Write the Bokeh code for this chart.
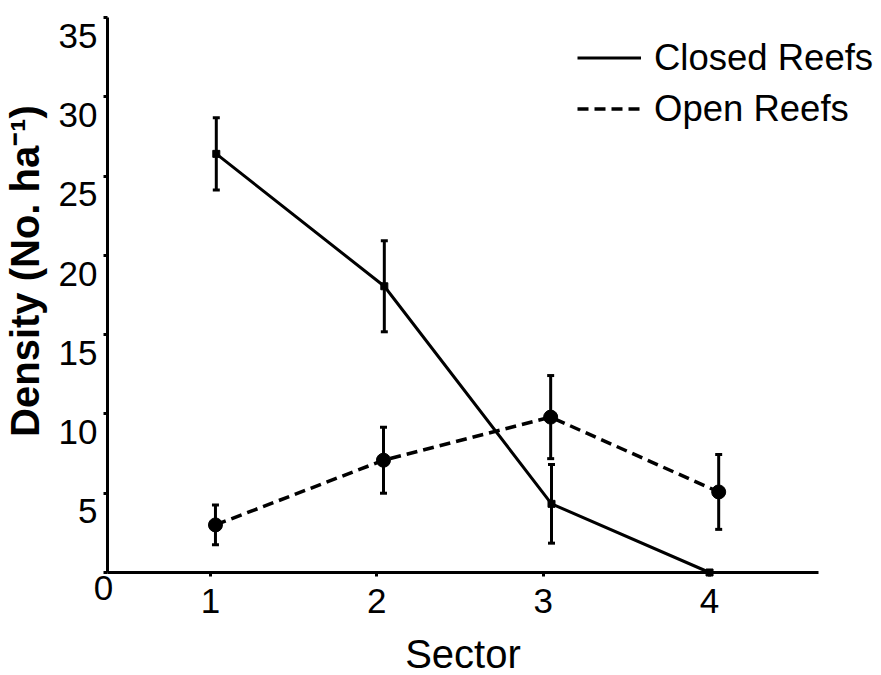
from bokeh.plotting import figure
from bokeh.models import (ColumnDataSource, FixedTicker, LinearAxis, CustomJSTickFormatter,
                          Whisker, TeeHead, Legend, LegendItem, Label)
from bokeh.embed import file_html
from bokeh.resources import INLINE

# Mean density (No. ha^-1) per sector with standard errors
sectors = [1, 2, 3, 4]
closed_x = [1.035, 2.045, 3.05, 4.0]
closed_mean = [26.4, 18.05, 4.33, 0.0]
closed_se = [2.28, 2.87, 2.48, 0.0]
open_x = [1.03, 2.04, 3.045, 4.055]
open_mean = [3.0, 7.08, 9.8, 5.08]
open_se = [1.25, 2.08, 2.62, 2.36]
y_ticks = [5, 10, 15, 20, 25, 30, 35]

FONT = "Liberation Sans"
LABEL_SHIFT = 1.15          # tick numbers sit a little below their ticks
X_AXIS = (0.381, 4.655)     # drawn extent of the sector axis
Y_AXIS = (0, 35)            # drawn extent of the density axis

closed = ColumnDataSource(dict(
    x=closed_x, y=closed_mean,
    lo=[m - s for m, s in zip(closed_mean, closed_se)],
    hi=[m + s for m, s in zip(closed_mean, closed_se)]))
opened = ColumnDataSource(dict(
    x=open_x, y=open_mean,
    lo=[m - s for m, s in zip(open_mean, open_se)],
    hi=[m + s for m, s in zip(open_mean, open_se)]))

# the frame fills the whole canvas; axes are pinned at the origin
p = figure(width=881, height=675, x_range=(-0.2622, 5.0337), y_range=(-6.4955, 36.072),
           output_backend="svg", toolbar_location=None,
           min_border_left=0, min_border_right=0, min_border_top=0, min_border_bottom=0)
p.outline_line_color = None
p.xgrid.visible = False
p.ygrid.visible = False

# x axis
xa = p.xaxis[0]
xa.fixed_location = 0
xa.bounds = X_AXIS
xa.ticker = FixedTicker(ticks=sectors)
xa.axis_line_width = 3
xa.major_tick_out = 4
xa.major_tick_in = 0
xa.major_tick_line_width = 3
xa.minor_tick_line_color = None
xa.major_label_text_font = FONT
xa.major_label_text_font_size = "35px"
xa.major_label_text_color = "black"
xa.major_label_standoff = 13
xa.axis_label = "Sector"
xa.axis_label_text_font = FONT
xa.axis_label_text_font_size = "40px"
xa.axis_label_text_font_style = "normal"
xa.axis_label_text_color = "black"
xa.axis_label_standoff = 15

# y axis: line and ticks
ya = p.yaxis[0]
ya.fixed_location = X_AXIS[0]
ya.bounds = Y_AXIS
ya.ticker = FixedTicker(ticks=[0] + y_ticks)
ya.formatter = CustomJSTickFormatter(code="return '';")
ya.axis_line_width = 3
ya.major_tick_out = 4
ya.major_tick_in = 0
ya.major_tick_line_width = 3
ya.minor_tick_line_color = None

# y axis: numbers and title
yl = LinearAxis(
    fixed_location=X_AXIS[0], bounds=(3, 35),
    ticker=FixedTicker(ticks=[t - LABEL_SHIFT for t in y_ticks]),
    formatter=CustomJSTickFormatter(code=f"return Math.round(tick + {LABEL_SHIFT}).toString();"),
    axis_line_color=None, major_tick_line_color=None, minor_tick_line_color=None,
    major_tick_out=0, major_tick_in=0,
    major_label_text_font=FONT, major_label_text_font_size="35px",
    major_label_text_color="black", major_label_standoff=10,
    axis_label="Density (No. ha\u207b\u00b9)", axis_label_text_font=FONT,
    axis_label_text_font_size="40px", axis_label_text_font_style="bold",
    axis_label_text_color="black", axis_label_standoff=9)
p.add_layout(yl, "left")

p.add_layout(Label(x=X_AXIS[0], y=0, text="0", x_offset=-4, y_offset=-16,
                   text_align="center", text_baseline="middle",
                   text_font=FONT, text_font_size="35px", text_color="black"))

# error bars
for src in (closed, opened):
    p.add_layout(Whisker(source=src, base="x", lower="lo", upper="hi",
                         line_width=3, line_color="black",
                         upper_head=TeeHead(size=7, line_width=3, line_color="black"),
                         lower_head=TeeHead(size=7, line_width=3, line_color="black")))

r_closed = p.line("x", "y", source=closed, line_width=3, line_color="black")
p.scatter("x", "y", source=closed, marker="square", size=7, color="black")
r_open = p.line("x", "y", source=opened, line_width=3.5, line_color="black", line_dash="11 6")
p.scatter("x", "y", source=opened, marker="circle", size=14, color="black")

legend = Legend(items=[LegendItem(label="Closed Reefs", renderers=[r_closed]),
                       LegendItem(label="Open Reefs", renderers=[r_open])],
                location=(577, 541), orientation="vertical",
                border_line_color=None, background_fill_alpha=0,
                glyph_width=64, glyph_height=51, label_standoff=13, spacing=0,
                padding=0, margin=0,
                label_text_font=FONT, label_text_font_size="36.5px", label_text_color="black")
p.add_layout(legend)

open("out.html", "w").write(file_html(p, INLINE))
